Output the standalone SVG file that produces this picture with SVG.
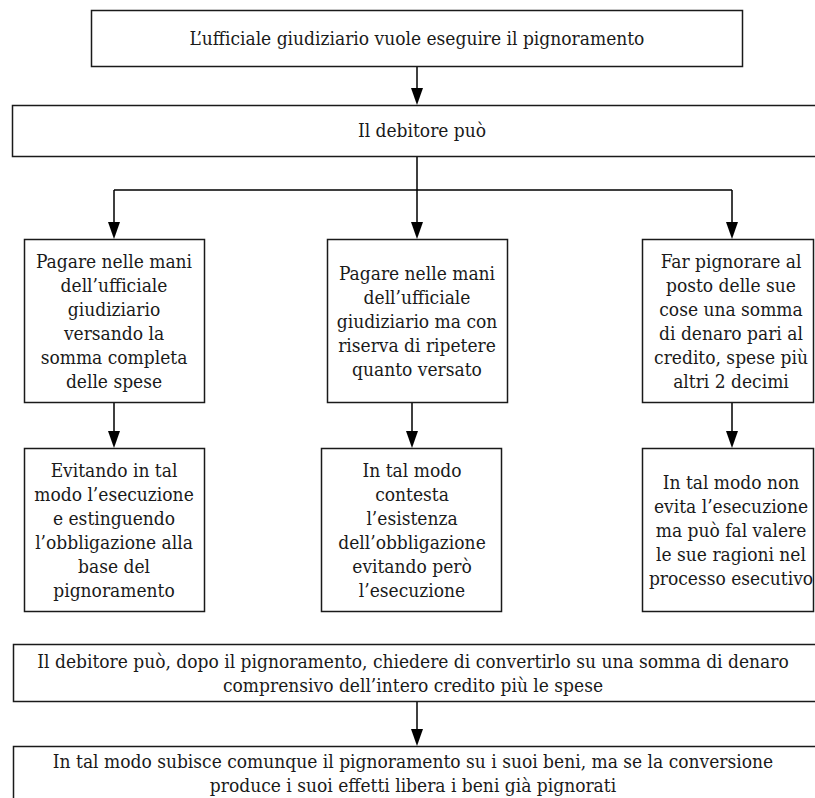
<svg xmlns="http://www.w3.org/2000/svg" width="815" height="798" viewBox="0 0 815 798">
<style>
.box{fill:#fff;stroke:#1a1a1a;stroke-width:1.5}
.t{font-family:"DejaVu Serif Condensed","DejaVu Serif",serif;font-stretch:condensed;font-size:19px;fill:#1a1a1a;text-anchor:middle}
.c{stroke:#000;stroke-width:1.5;fill:none}
</style>
<rect width="815" height="798" fill="#fff"/>
<g id="connectors">
<path class="c" d="M417,66 V88"/><path d="M411,88 H423 L417,105 Z"/>
<path class="c" d="M417,156 V190 M114,190 H732 M114,190 V222 M417,190 V222 M732,190 V222"/>
<path d="M108,222 H120 L114,239 Z"/><path d="M411,222 H423 L417,239 Z"/><path d="M726,222 H738 L732,239 Z"/>
<path class="c" d="M114,403 V431 M412,403 V431 M732,403 V431"/>
<path d="M108,431 H120 L114,448 Z"/><path d="M406,431 H418 L412,448 Z"/><path d="M726,431 H738 L732,448 Z"/>
<path class="c" d="M417,701 V729"/><path d="M411,729 H423 L417,746 Z"/>
</g>
<g id="n1">
<rect class="box" x="91.5" y="10.5" width="651" height="56"/>
<text class="t" x="417" y="45">L’ufficiale giudiziario vuole eseguire il pignoramento</text>
</g>
<g id="n2">
<rect class="box" x="12.5" y="105.5" width="820" height="51"/>
<text class="t" x="422" y="137">Il debitore può</text>
</g>
<g id="n3">
<rect class="box" x="24.5" y="239.5" width="180" height="163"/>
<text class="t" x="114" y="268"><tspan x="114">Pagare nelle mani</tspan><tspan x="114" dy="24">dell’ufficiale</tspan><tspan x="114" dy="24">giudiziario</tspan><tspan x="114" dy="24">versando la</tspan><tspan x="114" dy="24">somma completa</tspan><tspan x="114" dy="24">delle spese</tspan></text>
</g>
<g id="n4">
<rect class="box" x="327.5" y="239.5" width="180" height="163"/>
<text class="t" x="417" y="280"><tspan x="417">Pagare nelle mani</tspan><tspan x="417" dy="24">dell’ufficiale</tspan><tspan x="417" dy="24">giudiziario ma con</tspan><tspan x="417" dy="24">riserva di ripetere</tspan><tspan x="417" dy="24">quanto versato</tspan></text>
</g>
<g id="n5">
<rect class="box" x="642.5" y="239.5" width="171" height="163"/>
<text class="t" x="731" y="268"><tspan x="731">Far pignorare al</tspan><tspan x="731" dy="24">posto delle sue</tspan><tspan x="731" dy="24">cose una somma</tspan><tspan x="731" dy="24">di denaro pari al</tspan><tspan x="731" dy="24">credito, spese più</tspan><tspan x="731" dy="24">altri 2 decimi</tspan></text>
</g>
<g id="n6">
<rect class="box" x="24.5" y="448.5" width="180" height="163"/>
<text class="t" x="114" y="477"><tspan x="114">Evitando in tal</tspan><tspan x="114" dy="24">modo l’esecuzione</tspan><tspan x="114" dy="24">e estinguendo</tspan><tspan x="114" dy="24">l’obbligazione alla</tspan><tspan x="114" dy="24">base del</tspan><tspan x="114" dy="24">pignoramento</tspan></text>
</g>
<g id="n7">
<rect class="box" x="321.5" y="448.5" width="180" height="163"/>
<text class="t" x="412" y="477"><tspan x="412">In tal modo</tspan><tspan x="412" dy="24">contesta</tspan><tspan x="412" dy="24">l’esistenza</tspan><tspan x="412" dy="24">dell’obbligazione</tspan><tspan x="412" dy="24">evitando però</tspan><tspan x="412" dy="24">l’esecuzione</tspan></text>
</g>
<g id="n8">
<rect class="box" x="642.5" y="448.5" width="171" height="163"/>
<text class="t" x="731" y="489"><tspan x="731">In tal modo non</tspan><tspan x="731" dy="24">evita l’esecuzione</tspan><tspan x="731" dy="24">ma può fal valere</tspan><tspan x="731" dy="24">le sue ragioni nel</tspan><tspan x="731" dy="24">processo esecutivo</tspan></text>
</g>
<g id="n9">
<rect class="box" x="13.5" y="644.5" width="820" height="57"/>
<text class="t" x="413" y="668"><tspan x="413">Il debitore può, dopo il pignoramento, chiedere di convertirlo su una somma di denaro</tspan><tspan x="413" dy="24">comprensivo dell’intero credito più le spese</tspan></text>
</g>
<g id="n10">
<rect class="box" x="13.5" y="746.5" width="820" height="70"/>
<text class="t" x="413" y="768"><tspan x="413">In tal modo subisce comunque il pignoramento su i suoi beni, ma se la conversione</tspan><tspan x="413" dy="24">produce i suoi effetti libera i beni già pignorati</tspan></text>
</g>
</svg>
